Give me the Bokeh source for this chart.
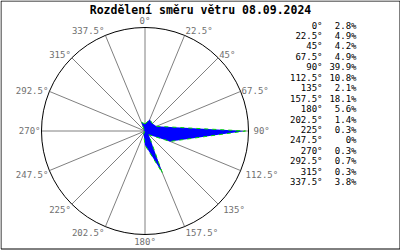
import math
from bokeh.plotting import figure
from bokeh.models import Range1d, ColumnDataSource
from bokeh.core.properties import value
from bokeh.embed import file_html
from bokeh.resources import INLINE

# ---- data ----
title = "Rozdělení směru větru 08.09.2024"
directions = [0, 22.5, 45, 67.5, 90, 112.5, 135, 157.5, 180, 202.5, 225, 247.5, 270, 292.5, 315, 337.5]
percents = [2.8, 4.9, 4.2, 4.9, 39.9, 10.8, 2.1, 18.1, 5.6, 1.4, 0.3, 0, 0.3, 0.7, 0.3, 3.8]
dir_labels = [f"{d:g}°" for d in directions]
pct_labels = [f"{v:g}%" for v in percents]

# ---- layout ----
W, H = 400, 250
CX, CY, R = 144.5, 130.5, 103.5
FONT = value("DejaVu Sans Mono")

p = figure(width=W, height=H, x_range=Range1d(0, W), y_range=Range1d(H, 0),
           toolbar_location=None, output_backend="svg", min_border=0)
p.axis.visible = False
p.grid.visible = False
p.outline_line_color = None
p.background_fill_color = "white"
p.border_fill_color = "white"

# border
p.quad(left=[0.5], right=[399.5], top=[0.5], bottom=[248.5], fill_color=None,
       line_color="black", line_width=1)

# spokes
rad = [math.radians(d) for d in directions]
sx = [CX + R * math.sin(a) for a in rad]
sy = [CY - R * math.cos(a) for a in rad]
p.segment(x0=[CX] * len(rad), y0=[CY] * len(rad), x1=sx, y1=sy,
          line_color="#808080", line_width=1)

# circle
p.circle(x=[CX], y=[CY], radius=R, fill_color=None, line_color="black", line_width=1)

# rose polygon
scale = (R - 3) / max(percents)
px = [CX + v * scale * math.sin(a) for v, a in zip(percents, rad)]
py = [CY - v * scale * math.cos(a) for v, a in zip(percents, rad)]
p.patch(px, py, fill_color="#0000ff", line_color="#00dd00", line_dash="4 4", line_width=1)

# direction labels around circle
lx, ly, la = [], [], []
for d, a, x, y in zip(directions, rad, sx, sy):
    s, c = math.sin(a), math.cos(a)
    if c > 0.01:
        dy = -5 * c * c
    elif c < -0.01:
        dy = 7 * math.sqrt(-c)
    else:
        dy = 0
    if s > 0.01:
        align = "left"
        dx = 5 if 80 <= d < 150 else 1
    elif s < -0.01:
        align = "right"
        dx = -1
    else:
        align = "center"
        dx = 0
    if d == 0:
        dy = -7
    lx.append(x + dx)
    ly.append(y + dy)
    la.append(align)
src = ColumnDataSource(dict(x=lx, y=ly, t=dir_labels, al=la))
p.text(x="x", y="y", text="t", text_align="al", text_baseline="middle",
       text_font=FONT, text_font_size="9px", text_color="#707070", source=src)

# legend table
rows_y = [25 + i * 10.45 for i in range(len(directions))]
p.text(x=[322] * len(directions), y=rows_y, text=dir_labels, text_align="right",
       text_baseline="middle", text_font=FONT, text_font_size="9px", text_color="black")
p.text(x=[356] * len(directions), y=rows_y, text=pct_labels, text_align="right",
       text_baseline="middle", text_font=FONT, text_font_size="9px", text_color="black")

# title
p.text(x=[W / 2], y=[9], text=[title], text_align="center", text_baseline="middle",
       text_font=FONT, text_font_size="11.5px", text_font_style="bold", text_color="black")

open("out.html", "w").write(file_html(p, INLINE))
